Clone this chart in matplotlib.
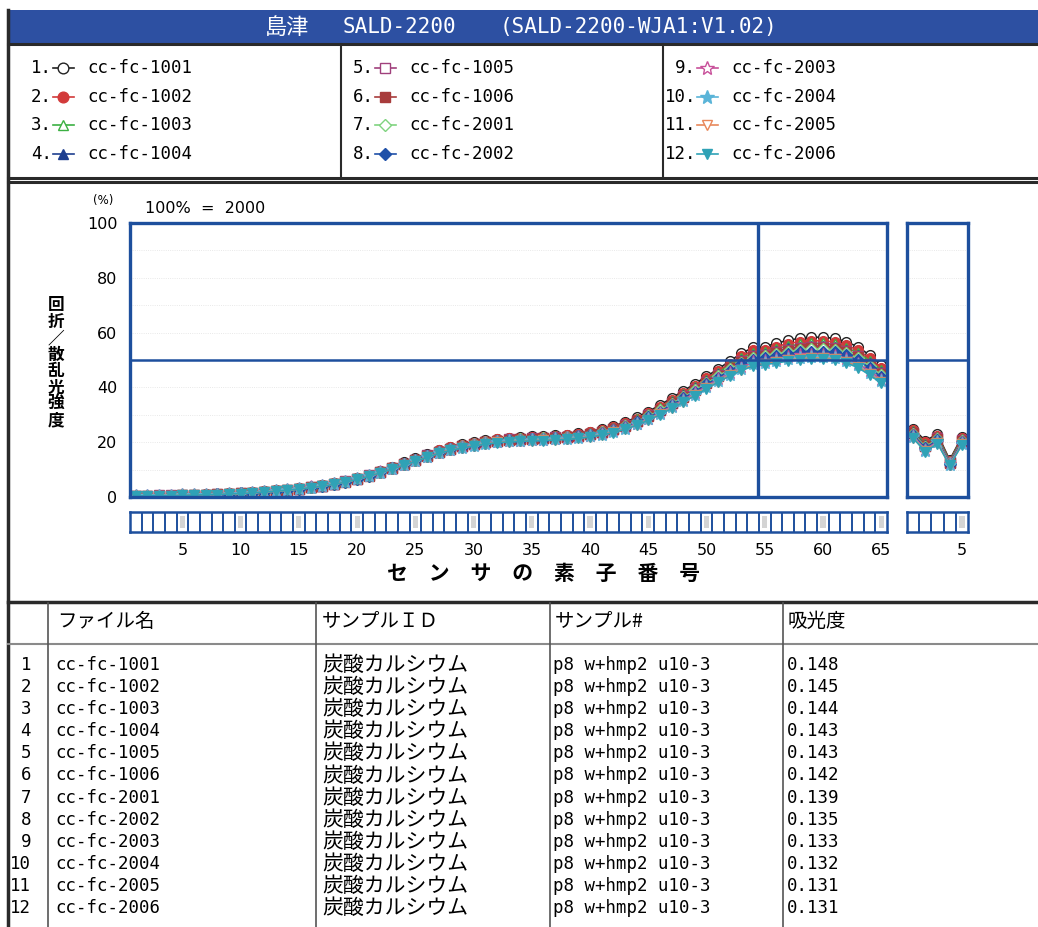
import matplotlib
matplotlib.use("Agg")
import matplotlib.pyplot as plt
from matplotlib.patches import Rectangle

W, H = 1038, 927

# ── data ─────────────────────────────────────────────────────────────────
sensors = list(range(1, 66))
sub_sensors = [1, 2, 3, 4, 5]
x_ticks = [5, 10, 15, 20, 25, 30, 35, 40, 45, 50, 55, 60, 65]
y_ticks = [0, 20, 40, 60, 80, 100]
grid_levels = [10, 20, 30, 40, 50, 60, 70, 80, 90]

cc_fc_1001 = [0.5, 0.5, 0.6, 0.6, 0.7, 0.8, 1.0, 1.1, 1.3, 1.4,
              1.7, 2.1, 2.4, 2.7, 3.3, 3.8, 4.3, 5.1, 5.9, 7.0,
              8.2, 9.6, 11.1, 12.6, 14.1, 15.7, 17.2, 18.3, 19.3, 20.0,
              20.8, 21.3, 21.7, 21.9, 22.2, 22.3, 22.6, 22.8, 23.3, 23.9,
              24.8, 25.9, 27.3, 29.1, 31.2, 33.5, 36.1, 38.7, 41.3, 44.0,
              46.7, 49.6, 52.4, 54.6, 54.9, 56.1, 57.2, 57.9, 58.3, 58.3,
              57.9, 56.7, 54.8, 51.8, 48.2]
cc_fc_1002 = [0.5, 0.5, 0.6, 0.6, 0.7, 0.8, 1.0, 1.1, 1.3, 1.4,
              1.7, 2.1, 2.4, 2.7, 3.2, 3.7, 4.2, 5.0, 5.8, 6.9,
              8.1, 9.5, 11.0, 12.4, 13.9, 15.5, 17.0, 18.1, 19.1, 19.8,
              20.6, 21.1, 21.4, 21.6, 21.9, 22.0, 22.3, 22.5, 23.0, 23.6,
              24.4, 25.5, 26.9, 28.6, 30.7, 32.9, 35.5, 38.0, 40.6, 43.3,
              45.9, 48.7, 51.4, 53.5, 53.8, 54.9, 56.0, 56.7, 57.0, 57.0,
              56.6, 55.5, 53.6, 50.6, 47.1]
cc_fc_1003 = [0.5, 0.5, 0.6, 0.6, 0.7, 0.8, 0.9, 1.0, 1.2, 1.3,
              1.6, 2.0, 2.3, 2.6, 3.2, 3.7, 4.2, 5.0, 5.8, 6.8,
              8.0, 9.4, 10.8, 12.3, 13.8, 15.4, 16.8, 17.9, 18.9, 19.6,
              20.4, 20.9, 21.3, 21.5, 21.7, 21.8, 22.1, 22.3, 22.8, 23.3,
              24.2, 25.2, 26.6, 28.3, 30.3, 32.5, 35.0, 37.6, 40.1, 42.7,
              45.4, 48.1, 50.7, 52.7, 53.1, 54.1, 55.1, 55.7, 56.1, 56.1,
              55.7, 54.5, 52.7, 49.8, 46.3]
cc_fc_1004 = [0.5, 0.5, 0.6, 0.6, 0.7, 0.8, 0.9, 1.0, 1.2, 1.3,
              1.6, 2.0, 2.3, 2.6, 3.1, 3.6, 4.1, 4.9, 5.7, 6.8,
              7.9, 9.3, 10.7, 12.2, 13.7, 15.2, 16.7, 17.8, 18.7, 19.4,
              20.2, 20.7, 21.1, 21.3, 21.5, 21.6, 21.9, 22.1, 22.5, 23.1,
              23.9, 24.9, 26.3, 27.9, 29.9, 32.1, 34.6, 37.1, 39.6, 42.2,
              44.8, 47.4, 49.9, 51.8, 52.3, 53.2, 54.2, 54.8, 55.1, 55.1,
              54.7, 53.6, 51.8, 48.9, 45.5]
cc_fc_1005 = [0.5, 0.5, 0.6, 0.6, 0.7, 0.8, 0.9, 1.0, 1.2, 1.3,
              1.6, 2.0, 2.3, 2.6, 3.1, 3.6, 4.1, 4.9, 5.7, 6.7,
              7.9, 9.2, 10.7, 12.2, 13.6, 15.2, 16.6, 17.7, 18.7, 19.4,
              20.1, 20.6, 21.0, 21.2, 21.4, 21.5, 21.8, 22.0, 22.4, 23.0,
              23.8, 24.8, 26.1, 27.8, 29.8, 31.9, 34.4, 36.9, 39.4, 42.0,
              44.5, 47.2, 49.6, 51.5, 51.9, 52.9, 53.8, 54.4, 54.7, 54.7,
              54.3, 53.2, 51.4, 48.6, 45.2]
cc_fc_1006 = [0.4, 0.4, 0.5, 0.5, 0.6, 0.7, 0.9, 1.0, 1.2, 1.3,
              1.6, 1.9, 2.2, 2.5, 3.1, 3.6, 4.1, 4.8, 5.6, 6.7,
              7.8, 9.2, 10.6, 12.1, 13.5, 15.1, 16.5, 17.6, 18.6, 19.3,
              20.0, 20.5, 20.9, 21.1, 21.3, 21.4, 21.7, 21.9, 22.3, 22.9,
              23.7, 24.7, 26.0, 27.6, 29.6, 31.7, 34.2, 36.6, 39.1, 41.7,
              44.3, 46.9, 49.3, 51.1, 51.6, 52.5, 53.4, 54.0, 54.3, 54.3,
              53.9, 52.8, 51.0, 48.2, 44.8]
cc_fc_2001 = [0.4, 0.4, 0.5, 0.5, 0.6, 0.7, 0.9, 1.0, 1.2, 1.3,
              1.6, 1.9, 2.2, 2.5, 3.1, 3.6, 4.1, 4.8, 5.6, 6.7,
              7.8, 9.2, 10.6, 12.1, 13.5, 15.0, 16.5, 17.6, 18.5, 19.2,
              20.0, 20.5, 20.8, 21.0, 21.3, 21.4, 21.6, 21.8, 22.3, 22.8,
              23.6, 24.6, 25.9, 27.5, 29.4, 31.6, 34.0, 36.4, 38.9, 41.5,
              44.1, 46.6, 49.0, 50.8, 51.3, 52.1, 53.0, 53.6, 53.9, 53.9,
              53.6, 52.5, 50.6, 47.8, 44.5]
cc_fc_2002 = [0.4, 0.4, 0.5, 0.5, 0.6, 0.7, 0.9, 1.0, 1.2, 1.3,
              1.6, 1.9, 2.2, 2.5, 3.0, 3.5, 4.0, 4.8, 5.6, 6.6,
              7.7, 9.1, 10.5, 12.0, 13.4, 14.9, 16.4, 17.5, 18.4, 19.1,
              19.8, 20.4, 20.7, 20.9, 21.1, 21.2, 21.4, 21.6, 22.1, 22.6,
              23.4, 24.3, 25.6, 27.2, 29.1, 31.2, 33.6, 36.0, 38.5, 41.1,
              43.6, 46.1, 48.4, 50.1, 50.6, 51.4, 52.3, 52.8, 53.1, 53.1,
              52.8, 51.7, 49.9, 47.1, 43.8]
cc_fc_2003 = [0.4, 0.4, 0.5, 0.5, 0.6, 0.7, 0.8, 0.9, 1.1, 1.2,
              1.5, 1.9, 2.2, 2.5, 3.0, 3.5, 4.0, 4.7, 5.5, 6.5,
              7.6, 9.0, 10.4, 11.8, 13.2, 14.7, 16.2, 17.3, 18.2, 18.9,
              19.6, 20.1, 20.4, 20.6, 20.8, 20.9, 21.2, 21.4, 21.8, 22.3,
              23.0, 24.0, 25.2, 26.8, 28.6, 30.7, 33.1, 35.4, 37.9, 40.4,
              42.9, 45.3, 47.4, 49.1, 49.6, 50.3, 51.1, 51.7, 51.9, 51.9,
              51.6, 50.5, 48.7, 46.0, 42.8]
cc_fc_2004 = [0.4, 0.4, 0.5, 0.5, 0.6, 0.7, 0.8, 0.9, 1.1, 1.2,
              1.5, 1.8, 2.1, 2.4, 2.9, 3.4, 3.9, 4.7, 5.5, 6.5,
              7.6, 8.9, 10.3, 11.7, 13.1, 14.6, 16.0, 17.1, 18.0, 18.7,
              19.5, 20.0, 20.3, 20.5, 20.7, 20.8, 21.0, 21.2, 21.6, 22.1,
              22.8, 23.7, 25.0, 26.5, 28.3, 30.4, 32.7, 35.0, 37.4, 40.0,
              42.4, 44.7, 46.8, 48.4, 49.0, 49.6, 50.4, 50.9, 51.1, 51.1,
              50.8, 49.8, 48.0, 45.3, 42.2]
cc_fc_2005 = [0.4, 0.4, 0.5, 0.5, 0.6, 0.7, 0.8, 0.9, 1.1, 1.2,
              1.5, 1.8, 2.1, 2.4, 2.9, 3.4, 3.9, 4.6, 5.4, 6.4,
              7.5, 8.8, 10.2, 11.7, 13.1, 14.6, 16.0, 17.1, 18.0, 18.7,
              19.4, 19.9, 20.2, 20.4, 20.6, 20.7, 20.9, 21.1, 21.5, 22.0,
              22.7, 23.6, 24.8, 26.3, 28.2, 30.2, 32.5, 34.8, 37.2, 39.7,
              42.1, 44.5, 46.5, 48.0, 48.6, 49.3, 50.0, 50.5, 50.7, 50.7,
              50.4, 49.4, 47.6, 45.0, 41.8]
cc_fc_2006 = [0.4, 0.4, 0.5, 0.5, 0.6, 0.7, 0.8, 0.9, 1.1, 1.2,
              1.5, 1.8, 2.1, 2.4, 2.9, 3.4, 3.9, 4.6, 5.4, 6.4,
              7.5, 8.8, 10.2, 11.6, 13.0, 14.5, 15.9, 17.0, 17.9, 18.6,
              19.3, 19.8, 20.1, 20.3, 20.5, 20.6, 20.8, 21.0, 21.4, 21.9,
              22.6, 23.5, 24.7, 26.2, 28.0, 30.0, 32.3, 34.6, 37.0, 39.5,
              41.9, 44.2, 46.2, 47.7, 48.3, 48.9, 49.6, 50.1, 50.3, 50.3,
              50.0, 49.0, 47.2, 44.6, 41.5]

# side-scatter detectors (small panel)
sub_1001 = [25.0, 20.5, 23.0, 13.5, 22.0]
sub_1002 = [24.4, 19.9, 22.4, 13.2, 21.5]
sub_1003 = [24.0, 19.4, 22.0, 12.9, 21.2]
sub_1004 = [23.6, 18.9, 21.6, 12.7, 20.8]
sub_1005 = [23.4, 18.7, 21.4, 12.6, 20.7]
sub_1006 = [23.3, 18.5, 21.3, 12.5, 20.5]
sub_2001 = [23.1, 18.3, 21.1, 12.4, 20.4]
sub_2002 = [22.7, 17.9, 20.7, 12.2, 20.1]
sub_2003 = [22.2, 17.3, 20.2, 11.9, 19.6]
sub_2004 = [21.9, 16.9, 19.9, 11.7, 19.3]
sub_2005 = [21.7, 16.7, 19.7, 11.6, 19.2]
sub_2006 = [21.5, 16.5, 19.5, 11.5, 19.0]

file_names = ["cc-fc-1001", "cc-fc-1002", "cc-fc-1003", "cc-fc-1004",
              "cc-fc-1005", "cc-fc-1006", "cc-fc-2001", "cc-fc-2002",
              "cc-fc-2003", "cc-fc-2004", "cc-fc-2005", "cc-fc-2006"]
sample_ids = ["炭酸カルシウム"] * 12
sample_nos = ["p8 w+hmp2 u10-3"] * 12
absorbance = ["0.148", "0.145", "0.144", "0.143", "0.143", "0.142",
              "0.139", "0.135", "0.133", "0.132", "0.131", "0.131"]
headers = ["ファイル名", "サンプルＩＤ", "サンプル#", "吸光度"]
ylabel_chars = ["回", "折", "／", "散", "乱", "光", "強", "度"]

main_series = [cc_fc_1001, cc_fc_1002, cc_fc_1003, cc_fc_1004, cc_fc_1005, cc_fc_1006,
               cc_fc_2001, cc_fc_2002, cc_fc_2003, cc_fc_2004, cc_fc_2005, cc_fc_2006]
sub_series = [sub_1001, sub_1002, sub_1003, sub_1004, sub_1005, sub_1006,
              sub_2001, sub_2002, sub_2003, sub_2004, sub_2005, sub_2006]

# ── styles ────────────────────────────────────────────────────────────────
colors  = ["#222222", "#d23a3a", "#3cb043", "#1f3f90", "#a0407c", "#a83c3c",
           "#7fd37f", "#1f50a8", "#c8509a", "#5ab4d8", "#e8875a", "#2fa2b6"]
markers = ["o", "o", "^", "^", "s", "s", "D", "D", "*", "*", "v", "v"]
filled  = [False, True] * 6
BLUE = "#1d4f9d"
TITLE_BLUE = "#2d50a2"
EDGE = "#2a2a2a"
MONO = ["DejaVu Sans Mono", "Noto Sans CJK JP"]
JP = ["Noto Sans CJK JP", "DejaVu Sans"]

plt.rcParams["font.family"] = ["DejaVu Sans", "Noto Sans CJK JP"]


def px_axes(x0, y0, x1, y1):
    return fig.add_axes([x0 / W, 1 - y1 / H, (x1 - x0) / W, (y1 - y0) / H])


def mstyle(i, big=1.0):
    ms = 9.5 if markers[i] == "*" else (6.0 if markers[i] == "D" else 7.0)
    return dict(color=colors[i], marker=markers[i], ms=ms * big, mec=colors[i],
                mfc=colors[i] if filled[i] else "white", mew=1.0)


fig = plt.figure(figsize=(W / 100, H / 100), dpi=100)

# page layer in pixel coordinates
page = fig.add_axes([0, 0, 1, 1])
page.set_xlim(0, W)
page.set_ylim(H, 0)
page.axis("off")

# title bar
page.add_patch(Rectangle((8, 10), W - 8, 33, fc=TITLE_BLUE, ec="none"))
page.text(265, 27, "島津", color="white", fontsize=16, family=JP, va="center")
page.text(343, 27, "SALD-2200", color="white", fontsize=15, family=MONO, va="center")
page.text(500, 27, "(SALD-2200-WJA1:V1.02)", color="white", fontsize=15,
          family=MONO, va="center")

# frames
page.plot([8, W], [44, 44], color=EDGE, lw=2.2)
page.plot([8, W], [178, 178], color=EDGE, lw=2.2)
page.plot([8, W], [182, 182], color=EDGE, lw=2.2)
page.plot([8, W], [602, 602], color=EDGE, lw=2.5)
page.plot([8, 8], [10, H], color=EDGE, lw=2.5)
page.plot([341, 341], [44, 178], color=EDGE, lw=1.5)
page.plot([663, 663], [44, 178], color=EDGE, lw=1.5)

# legend
col_x = [50, 372, 694]
row_y = [68, 97, 125, 154]
for i, name in enumerate(file_names):
    cx, cy = col_x[i // 4], row_y[i % 4]
    page.text(cx + 2, cy, f"{i + 1}.", ha="right", va="center", fontsize=12.5, family=MONO)
    page.plot([cx + 3, cx + 24], [cy, cy], color=colors[i], lw=1.2)
    page.plot([cx + 13], [cy], ls="none", **mstyle(i, 1.1))
    page.text(cx + 37, cy, name, va="center", fontsize=12.5, family=MONO)

# axis annotations
page.text(103, 200, "(%)", ha="center", va="center", fontsize=8.5)
page.text(145, 208, "100%  =  2000", va="center", fontsize=11.5)
for k, ch in enumerate(ylabel_chars):
    page.text(56, 305 + k * 16.5, ch, ha="center", va="center",
              fontsize=12, fontweight="bold", family=JP)
page.text(544, 573, "セ　ン　サ　の　素　子　番　号", ha="center", va="center",
          fontsize=15, fontweight="bold", family=JP)

# ── main detector plot ───────────────────────────────────────────────────
ax = px_axes(130, 223, 887, 497)
ax.set_xlim(0.5, 65.5)
ax.set_ylim(0, 100)
ax.hlines(grid_levels, 0.5, 65.5, colors="#e2e2e2", linestyles=":", lw=0.6)
for i, vals in enumerate(main_series):
    ax.plot(sensors, vals, lw=1.2, **mstyle(i))
ax.axhline(50, color=BLUE, lw=1.8)
ax.axvline(54.4, color=BLUE, lw=2.4)
ax.set_xticks([])
ax.set_yticks(y_ticks)
ax.tick_params(axis="y", length=0, pad=9, labelsize=11.5)
for s in ax.spines.values():
    s.set_color(BLUE)
    s.set_linewidth(2.4)

# side detectors
sx = px_axes(907, 223, 968, 497)
sx.set_xlim(0.5, 5.5)
sx.set_ylim(0, 100)
sx.hlines(grid_levels, 0.5, 5.5, colors="#e2e2e2", linestyles=":", lw=0.6)
for i, vals in enumerate(sub_series):
    sx.plot(sub_sensors, vals, lw=1.2, **mstyle(i))
sx.axhline(50, color=BLUE, lw=1.8)
sx.set_xticks([])
sx.set_yticks([])
for s in sx.spines.values():
    s.set_color(BLUE)
    s.set_linewidth(2.4)

# element boxes under the plots
for (x0, x1, n, ticks) in [(130, 887, 65, x_ticks), (907, 968, 5, [5])]:
    bx = px_axes(x0, 512, x1, 532)
    bx.set_xlim(0.5, n + 0.5)
    bx.set_ylim(0, 1)
    bx.vlines([k + 0.5 for k in range(1, n)], 0, 1, colors=BLUE, lw=1.4)
    for k in range(5, n + 1, 5):
        bx.add_patch(Rectangle((k - 0.22, 0.2), 0.44, 0.6, fc="#d4d4d4", ec="none"))
    bx.set_yticks([])
    bx.set_xticks(ticks)
    bx.tick_params(axis="x", length=0, pad=8, labelsize=11.5)
    for s in bx.spines.values():
        s.set_color(BLUE)
        s.set_linewidth(1.8)

# ── table ────────────────────────────────────────────────────────────────
page.plot([8, W], [644, 644], color="#8a8a8a", lw=1.5)
for x in [48, 316, 550, 783]:
    page.plot([x, x], [603, H], color="#555555", lw=1.2)
for x, h in zip([57, 322, 555, 788], headers):
    page.text(x, 621, h, va="center", fontsize=14, family=JP)
for r in range(12):
    y = 665 + r * 22.1
    page.text(31, y, str(r + 1), ha="right", va="center", fontsize=12.5, family=MONO)
    page.text(55, y, file_names[r], va="center", fontsize=12.5, family=MONO)
    page.text(322, y, sample_ids[r], va="center", fontsize=15, family=JP)
    page.text(553, y, sample_nos[r], va="center", fontsize=12.5, family=MONO)
    page.text(787, y, absorbance[r], va="center", fontsize=12.5, family=MONO)

fig.savefig("out.png", dpi=100)
